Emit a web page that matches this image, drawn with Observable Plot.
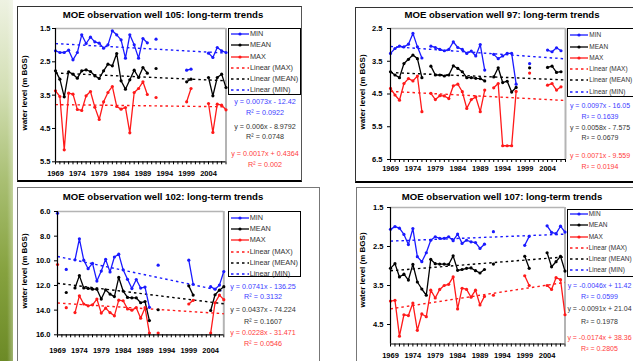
<!DOCTYPE html>
<html><head><meta charset="utf-8">
<script src="https://cdn.jsdelivr.net/npm/d3@7"></script>
<script src="https://cdn.jsdelivr.net/npm/@observablehq/plot@0.6"></script>
<style>
html,body{margin:0;padding:0;}
body{width:633px;height:361px;overflow:hidden;position:relative;background:#fff;font-family:"Liberation Sans",Arial,sans-serif;}
.t{position:absolute;white-space:nowrap;line-height:1;transform:translate(-50%,-50%);}
.box{position:absolute;box-sizing:border-box;}
#strip{position:absolute;left:0;top:0;width:13px;height:361px;
 background:linear-gradient(to right, rgba(255,255,255,0) 55%, rgba(255,255,255,0.35) 100%),
 linear-gradient(to bottom,#eef2e2 0%,#d3dfb4 25%,#a9bf73 50%,#86a23f 75%,#6c8a26 100%);}
</style></head><body>
<div id="strip"></div>
<script>
// ---------- data ----------
const years = [1969,1970,1971,1972,1973,1974,1975,1976,1977,1978,1979,1980,1981,1982,1983,1984,1985,1986,1987,1988,1989,1990,1991,1992,1993,1994,1995,1996,1997,1998,1999,2000,2001,2002,2003,2004,2005,2006,2007,2008];
const labelYears = [1969,1974,1979,1984,1989,1994,1999,2004];

// Well 105
const w105Min  = [2.17,2.22,2.22,2.15,2.44,2.22,1.69,1.95,1.76,1.9,1.94,2.09,1.99,1.57,1.69,1.84,2.39,1.69,1.99,2.39,1.8,1.93,null,1.82,null,null,null,null,null,null,2.75,2.72,null,null,null,2.24,2.37,2.07,2.17,2.22];
const w105Mean = [2.77,3.02,3.55,2.8,2.87,2.99,2.77,2.74,2.79,2.92,3.0,2.77,2.57,2.62,2.25,3.07,3.32,3.04,2.75,2.97,2.67,2.84,null,2.7,null,null,null,null,null,null,3.1,3.02,null,null,null,2.97,3.52,2.97,2.87,3.27];
const w105Max  = [3.37,3.54,5.14,3.44,3.47,3.93,3.96,3.52,3.39,3.86,4.23,3.7,3.42,3.24,3.84,3.92,3.87,4.63,3.42,3.3,3.1,3.48,null,3.57,null,null,null,null,null,null,3.7,3.3,null,null,null,3.75,4.62,3.77,3.8,3.94];
const w105Slope = [0.0073,0.006,0.0017];
const w105Intercept = [-12.42,-8.9792,0.4364];
const w105R2 = ["0.0922","0.0748","0.002"];
const w105YTicks = [1.5,2.5,3.5,4.5,5.5];

// Well 97
const w97Min  = [3.26,3.11,3.04,3.06,2.98,2.65,3.06,3.4,null,3.04,3.08,3.14,3.18,3.14,2.91,3.08,3.14,3.26,3.19,3.34,2.99,3.77,null,3.29,3.42,3.34,3.26,3.26,4.2,null,null,3.57,null,null,null,3.16,3.21,3.09,3.18,null];
const w97Mean = [3.82,3.92,4.0,3.57,3.44,3.31,3.42,4.0,null,3.65,3.92,3.92,3.95,3.92,3.64,3.72,3.82,4.0,4.0,4.02,4.03,4.1,null,3.98,3.7,4.15,4.11,4.44,4.3,null,null,3.7,null,null,null,3.69,3.65,3.84,3.82,null];
const w97Max  = [4.33,4.53,4.69,4.18,4.03,4.1,3.95,5.04,null,4.48,4.67,4.55,4.56,4.64,4.25,4.2,4.43,4.94,4.67,4.59,5.04,4.38,null,4.31,4.18,6.08,6.08,6.08,4.42,null,null,3.86,null,null,null,4.23,4.18,4.38,4.28,null];
const w97Slope = [0.0097,0.0058,0.0071];
const w97Intercept = [-16.05,-7.575,-9.559];
const w97R2 = ["0.1639","0.0679","0.0194"];
const w97YTicks = [2.5,3.5,4.5,5.5,6.5];

// Well 102
const w102Min  = [6.14,null,10.7,null,9.92,8.22,9.95,10.64,10.21,11.64,10.83,9.88,10.9,9.69,9.46,10.73,11.5,12.25,11.52,12.21,12.13,13.77,null,10.35,null,null,null,null,null,null,9.95,11.9,null,null,null,12.1,12.3,11.97,10.87,null];
const w102Mean = [null,null,12.57,null,12.2,11.2,12.2,12.24,12.3,12.3,13.1,12.35,12.7,12.9,11.35,12.45,12.97,13.0,13.0,13.4,13.3,14.85,null,13.97,null,null,null,null,null,null,12.03,12.78,null,null,null,14.03,12.75,12.38,12.1,null];
const w102Max  = [10.3,null,13.8,null,14.2,12.84,13.5,13.65,13.57,13.1,14.24,13.84,14.2,14.46,13.19,13.24,13.9,14.0,13.8,14.65,13.8,15.86,null,15.86,null,null,null,null,null,null,13.5,13.2,null,null,null,15.86,13.4,12.78,13.15,null];
const w102Slope = [0.0741,0.0437,0.0228];
const w102Intercept = [-136.25,-74.224,-31.471];
const w102R2 = ["0.3132","0.1607","0.0546"];
const w102YTicks = [6,8,10,12,14,16];

// Well 107
const w107Min  = [2.06,1.99,2.03,2.19,2.45,2.04,2.76,2.89,2.66,2.34,2.25,2.29,2.29,2.25,2.35,2.18,2.42,2.34,2.38,2.4,2.55,2.44,null,2.12,null,null,null,null,null,null,2.47,2.24,null,null,null,1.97,2.14,2.17,1.98,2.13];
const w107Mean = [3.06,2.94,3.28,3.21,3.36,2.96,3.41,3.59,3.75,2.83,2.94,2.95,2.95,2.96,2.74,3.11,3.09,3.06,3.05,3.12,3.18,3.09,null,2.95,null,null,null,null,null,null,2.75,3.06,null,null,null,2.66,3.02,2.89,2.75,3.13];
const w107Max  = [3.9,3.88,4.8,4.25,4.27,3.95,4.65,4.23,4.3,3.62,3.82,3.6,3.5,3.47,3.28,4.1,3.57,3.6,3.8,3.62,4.0,3.78,null,3.75,null,null,null,null,null,null,3.25,3.5,null,null,null,3.5,3.6,3.3,3.35,4.25];
const w107Slope = [-0.0046,-0.0091,-0.0174];
const w107Intercept = [11.42,21.04,38.36];
const w107R2 = ["0.0599","0.1978","0.2805"];
const w107YTicks = [1.5,2.5,3.5,4.5];

// ---------- styling / layout ----------
const BLUE = "#1a1aff", BLACK = "#000", RED = "#ff1a1a";
const colors = [BLUE, BLACK, RED];
const eqColors = ["#3c3cff", "#333", "#ff3c3c"];
const FONT = '"Liberation Sans", Arial, sans-serif';

function addText(txt, x, y, style) {
  const d = document.createElement("div");
  d.className = "t";
  d.textContent = txt;
  d.style.left = x + "px"; d.style.top = y + "px";
  Object.assign(d.style, style || {});
  document.body.appendChild(d);
  return d;
}
function addBox(l, t, r, b, style) {
  const d = document.createElement("div");
  d.className = "box";
  d.style.left = l + "px"; d.style.top = t + "px";
  d.style.width = (r - l) + "px"; d.style.height = (b - t) + "px";
  Object.assign(d.style, style);
  document.body.appendChild(d);
  return d;
}
function fmtEq(s, b) { return "y = " + s + "x " + (b < 0 ? "- " : "+ ") + Math.abs(b); }

function panel(d, L) {
  const keys = ["min", "mean", "max"];
  const rows = years.map((year, i) => ({year, min: d.min[i], mean: d.mean[i], max: d.max[i]}));
  const [x0, x1] = d.xDomain;
  const trends = keys.map((k, j) => [x0, x1].map(x => ({year: x, v: d.slope[j] * x + d.intercept[j]})));
  const yTop = d.yDomain[0], yBot = d.yDomain[1];
  const svgLeft = L.frame.l - 36, svgTop = L.frame.t - 8;
  const width = Math.round(L.frame.r - svgLeft + 8), height = Math.round(L.frame.b - svgTop + 26);
  const chart = Plot.plot({
    width, height,
    marginLeft: L.frame.l - svgLeft,
    marginRight: width - (L.frame.r - svgLeft),
    marginTop: L.frame.t - svgTop,
    marginBottom: height - (L.frame.b - svgTop),
    x: {domain: d.xDomain},
    y: {domain: [yBot, yTop]},
    style: {fontFamily: FONT, fontSize: "7.5px", fontWeight: "bold", color: "#000", background: "transparent", overflow: "visible"},
    marks: [
      Plot.ruleY([yTop], {stroke: "#b4b4b4", strokeWidth: 1.5}),
      Plot.ruleX([x1], {stroke: "#b4b4b4", strokeWidth: 2}),
      ...trends.map((t, j) => Plot.line(t, {x: "year", y: "v", stroke: colors[j], strokeWidth: 1.4, strokeDasharray: "2.5,3", strokeLinecap: "butt"})),
      ...keys.map((k, j) => Plot.line(rows, {x: "year", y: k, stroke: colors[j], strokeWidth: 1.3})),
      ...keys.map((k, j) => Plot.dot(rows.filter(r => r[k] != null), {x: "year", y: k, r: 1.6, fill: colors[j], stroke: "none"})),
      Plot.ruleX([x0], {stroke: "#000", strokeWidth: 1.2}),
      Plot.ruleY([yBot], {stroke: "#000", strokeWidth: 1.2}),
      Plot.axisY({ticks: d.yTicks, tickFormat: d3.format(".1f"), tickSize: 3, tickPadding: L.yPad, label: null}),
      Plot.axisX({ticks: years.filter(y => y >= x0 && y <= x1), tickSize: 3, tickFormat: () => "", label: null}),
      Plot.axisX({ticks: labelYears, tickSize: 0, tickPadding: L.xPad, tickFormat: d3.format("d"), label: null})
    ]
  });
  chart.style.position = "absolute";
  chart.style.left = svgLeft + "px";
  chart.style.top = svgTop + "px";
  document.body.appendChild(chart);

  addText(d.title, L.title[0], L.title[1], {fontSize: "9.6px", fontWeight: "bold", color: "#000"});
  addText("water level (m BGS)", L.ytitle[0], L.ytitle[1], {fontSize: "8px", fontWeight: "bold", color: "#000", transform: "translate(-50%,-50%) rotate(-90deg)"});

  const lb = addBox(L.legend.l, L.legend.t, L.legend.l + L.legend.w, L.legend.t + L.legend.h, {border: "1px solid #000", background: "#fff"});
  const items = [
    {label: "MIN", c: BLUE, dash: false}, {label: "MEAN", c: BLACK, dash: false}, {label: "MAX", c: RED, dash: false},
    {label: "Linear (MAX)", c: RED, dash: true}, {label: "Linear (MEAN)", c: BLACK, dash: true}, {label: "Linear (MIN)", c: BLUE, dash: true}
  ];
  items.forEach((it, i) => {
    const cy = L.legend.r0 + i * L.legend.step;
    const s = document.createElementNS("http://www.w3.org/2000/svg", "svg");
    s.setAttribute("width", 18); s.setAttribute("height", 6);
    s.style.position = "absolute"; s.style.left = "2px"; s.style.top = (cy - 3) + "px";
    s.innerHTML = it.dash
      ? `<line x1="0" y1="3" x2="18" y2="3" stroke="${it.c}" stroke-width="1.4" stroke-dasharray="2.5,3"/>`
      : `<line x1="0" y1="3" x2="18" y2="3" stroke="${it.c}" stroke-width="1.3"/><circle cx="9" cy="3" r="1.6" fill="${it.c}"/>`;
    lb.appendChild(s);
    const tx = document.createElement("div");
    tx.textContent = it.label;
    Object.assign(tx.style, {position: "absolute", left: "21px", top: (cy - 4) + "px", fontSize: L.legend.fs, lineHeight: "8px", color: "#333", whiteSpace: "nowrap"});
    lb.appendChild(tx);
  });

  [0, 1, 2].forEach(j => {
    addText(fmtEq(d.slope[j], d.intercept[j]), L.eqX, L.eqY[2 * j], {fontSize: L.eqFs, color: eqColors[j]});
    addText("R² = " + d.r2[j], L.eqX, L.eqY[2 * j + 1], {fontSize: L.eqFs, color: eqColors[j]});
  });
}

// panel frames
addBox(17, 6, 302, 182, {borderLeft: "1px solid #333", borderTop: "1px solid #333", borderRight: "1px solid #555", borderBottom: "2px solid #000"});
addBox(355, 7, 660, 183, {borderLeft: "1px solid #333", borderTop: "1px solid #333", borderBottom: "2px solid #000"});
addBox(17, 187, 320, 380, {border: "1px solid #777"});
addBox(356, 187, 660, 380, {border: "1px solid #777"});

panel({title: "MOE observation well 105: long-term trends", min: w105Min, mean: w105Mean, max: w105Max,
  slope: w105Slope, intercept: w105Intercept, r2: w105R2, yTicks: w105YTicks, yDomain: [1.5, 5.5], xDomain: [1969, 2008]},
  {frame: {l: 55, r: 225.5, t: 27.7, b: 161}, yPad: 2, xPad: 9.3, title: [163, 15], ytitle: [25, 93],
   legend: {l: 228, t: 28, w: 73, h: 67, r0: 5.3, step: 11.1, fs: "7.3px"}, eqX: 265, eqFs: "7.2px", eqY: [101.7, 113.3, 127.3, 137.3, 154, 165]});

panel({title: "MOE observation well 97: long-term trends", min: w97Min, mean: w97Mean, max: w97Max,
  slope: w97Slope, intercept: w97Intercept, r2: w97R2, yTicks: w97YTicks, yDomain: [2.5, 6.5], xDomain: [1969, 2008]},
  {frame: {l: 390, r: 565, t: 28.3, b: 159.3}, yPad: 5, xPad: 6.3, title: [502, 15], ytitle: [363, 92],
   legend: {l: 567.3, t: 28.3, w: 80, h: 68.4, r0: 6, step: 11.3, fs: "6.5px"}, eqX: 600, eqFs: "7px", eqY: [105, 115.7, 127.3, 137.3, 155, 165.7]});

panel({title: "MOE observation well 102: long-term trends", min: w102Min, mean: w102Mean, max: w102Max,
  slope: w102Slope, intercept: w102Intercept, r2: w102R2, yTicks: w102YTicks, yDomain: [6, 16], xDomain: [1969, 2007]},
  {frame: {l: 57, r: 223.3, t: 210.7, b: 334}, yPad: 4, xPad: 13.3, title: [163, 197], ytitle: [25, 271],
   legend: {l: 227.7, t: 210.7, w: 73.3, h: 66, r0: 6.6, step: 11.1, fs: "7.3px"}, eqX: 263, eqFs: "7.2px", eqY: [287.3, 297.3, 310, 321.7, 333.3, 344]});

panel({title: "MOE observation well 107: long-term trends", min: w107Min, mean: w107Mean, max: w107Max,
  slope: w107Slope, intercept: w107Intercept, r2: w107R2, yTicks: w107YTicks, yDomain: [1.5, 5.0], xDomain: [1969, 2008]},
  {frame: {l: 389.5, r: 564, t: 207.3, b: 343.8}, yPad: 4, xPad: 8.3, title: [502, 197], ytitle: [363, 270],
   legend: {l: 566.7, t: 208.7, w: 80, h: 68, r0: 4.6, step: 11.2, fs: "6.5px"}, eqX: 599.5, eqFs: "7px", eqY: [285, 296, 307.7, 320.7, 336.7, 348.3]});
</script>
</body></html>
